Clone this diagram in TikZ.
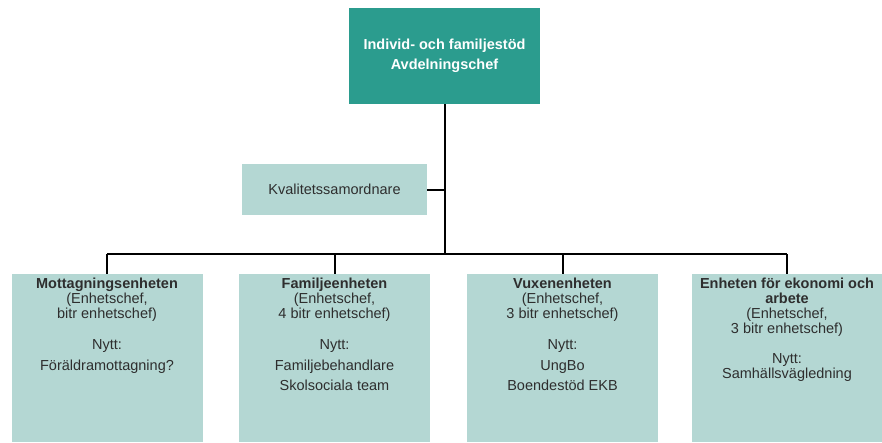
\documentclass[tikz,border=0pt]{standalone}
\usepackage{fontspec}
\setmainfont{Liberation Sans}
\definecolor{teal1}{HTML}{2B9C8E}
\definecolor{light1}{HTML}{B4D7D3}
\definecolor{txt}{HTML}{2E2E2E}
\begin{document}
\begin{tikzpicture}[x=1pt,y=-1pt,
  topbox/.style={fill=teal1, draw=none, minimum width=191pt, minimum height=96pt, inner sep=0pt,
    text=white, font=\bfseries\fontsize{14.5}{20}\selectfont, align=center},
  kbox/.style={fill=light1, draw=none, minimum width=185pt, minimum height=51pt, inner sep=0pt,
    text=txt, font=\fontsize{14.5}{15}\selectfont},
  unitbox/.style={fill=light1, draw=none, minimum width=191pt, minimum height=168pt, inner sep=0pt, anchor=north},
  unittext/.style={anchor=north, inner sep=0pt, align=center, text=txt, font=\fontsize{14.5}{15}\selectfont},
  conn/.style={draw=black, line width=2pt}]
\useasboundingbox (0,0) rectangle (882,442);
\node[topbox] (top) at (444.5,56) {Individ- och familjestöd\\Avdelningschef};
\node[kbox] (kval) at (334.5,189.5) {Kvalitetssamordnare};
\coordinate (bar) at (444.5,254);
\node[unitbox] (u1) at (107,274) {};
\node[unitbox] (u2) at (334.5,274) {};
\node[unitbox] (u3) at (562.5,274) {};
\node[unitbox, minimum width=190pt] (u4) at (787,274) {};
\node[unittext] (t1) at (107,278) {\textbf{Mottagningsenheten}\\(Enhetschef,\\bitr enhetschef)\\[16pt]Nytt:\\[6pt]Föräldramottagning?};
\node[unittext] (t2) at (334.5,278) {\textbf{Familjeenheten}\\(Enhetschef,\\4 bitr enhetschef)\\[16pt]Nytt:\\[6pt]Familjebehandlare\\[5pt]Skolsociala team};
\node[unittext] (t3) at (562.5,278) {\textbf{Vuxenenheten}\\(Enhetschef,\\3 bitr enhetschef)\\[16pt]Nytt:\\[6pt]UngBo\\[5pt]Boendestöd EKB};
\node[unittext] (t4) at (787,278) {\textbf{Enheten för ekonomi och}\\\textbf{arbete}\\(Enhetschef,\\3 bitr enhetschef)\\[15pt]Nytt:\\Samhällsvägledning};
\draw[conn] (top.south) -- (bar);
\draw[conn] (kval.east) -- (kval.east -| bar);
\draw[conn] (u1.north |- bar) -- (u4.north |- bar);
\foreach \u in {u1,u2,u3,u4} \draw[conn] (\u.north |- bar) -- (\u.north);
\end{tikzpicture}
\end{document}
